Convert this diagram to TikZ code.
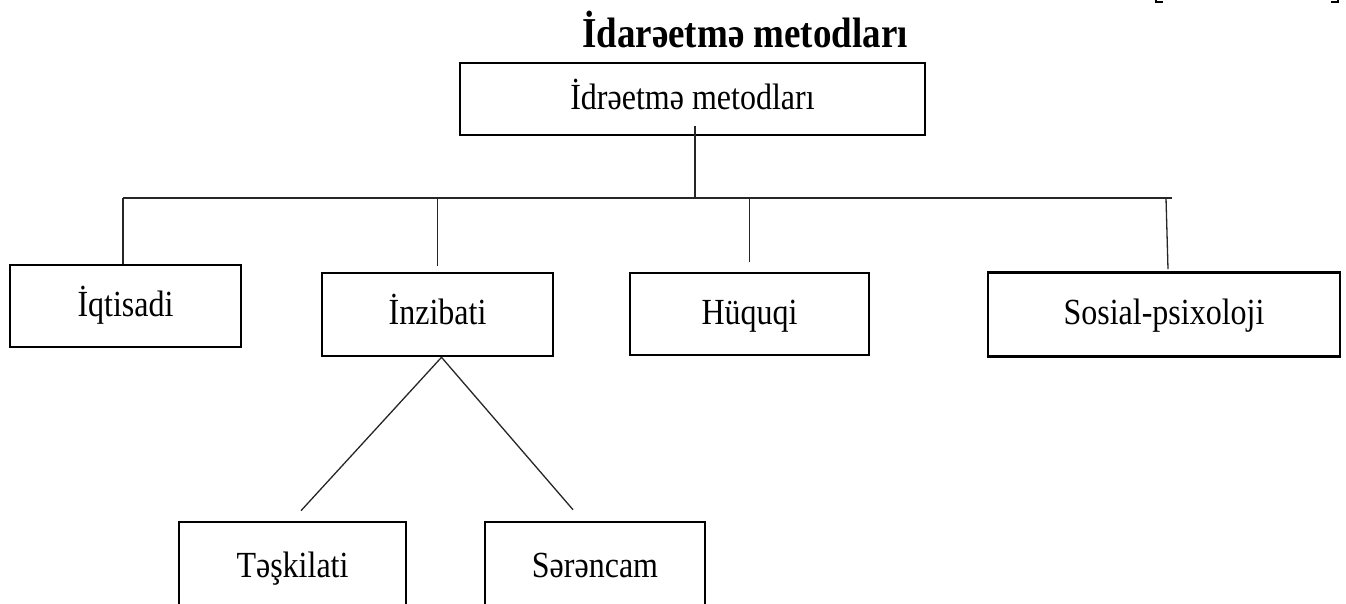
\documentclass[tikz,border=0pt]{standalone}
\usepackage{graphicx}
\usepackage{fontspec}
\setmainfont{Liberation Serif}
\usetikzlibrary{calc}
% slightly tall lettering
\newcommand\tallword[1]{\scalebox{1}[1.15]{#1}}
\begin{document}
\begin{tikzpicture}[x=1pt,y=-1pt,
  box/.style={draw=black,line width=2.6pt,inner sep=0pt,
    text height=22pt,text depth=2pt,
    font=\fontsize{32}{38}\selectfont,align=center},
  conn/.style={draw=black!85,line width=1.3pt},
  brk/.style={draw=black,line width=2.6pt}]
\useasboundingbox (0,0) rectangle (1346,603);
\clip (0,0) rectangle (1346,603);

% heading
\node[anchor=base,font=\bfseries\fontsize{37}{44}\selectfont] (title) at (745,47) {\tallword{İdarəetmə metodları}};

% fragments of a bracketed reference cut by the top edge
\coordinate (bl) at (1156,-6);
\coordinate (br) at (1338,-6);
\draw[brk] (bl) -- ++(0,8) -- ++(7,0);
\draw[brk] (br) -- ++(0,8) -- ++(-7,0);

% root
\node[box,minimum width=465pt,minimum height=72pt] (top) at (692.5,99) {\tallword{İdrəetmə metodları}};

% first level
\node[box,minimum width=231pt,minimum height=82pt] (iq)  at (125.5,306) {\tallword{İqtisadi}};
\node[box,minimum width=231pt,minimum height=83pt] (inz) at (437.5,314.5) {\tallword{İnzibati}};
\node[box,minimum width=239pt,minimum height=82pt] (hq)  at (749.5,314) {\tallword{Hüquqi}};
\node[box,minimum width=352pt,minimum height=84pt] (sos) at (1164,314.5) {\tallword{Sosial-psixoloji}};

% second level
\node[box,minimum width=227pt,minimum height=90pt] (tes) at (292.5,567) {\tallword{Təşkilati}};
\node[box,minimum width=220pt,minimum height=90pt] (ser) at (595,567) {\tallword{Sərəncam}};

% bus line and drops
\coordinate (busL) at (123,198);
\coordinate (busR) at (1172,198);
\draw[conn] (busL) -- (busR);
\draw[conn] ([xshift=2.5pt,yshift=10pt]top.south) -- ([xshift=2.5pt]top.south |- busL);
\draw[conn] (busL) -- (busL |- iq.north);
\draw[conn] (inz.north |- busL) -- ([yshift=6pt]inz.north);
\draw[conn] (hq.north |- busL) -- ([yshift=10pt]hq.north);
\draw[conn] ([xshift=2pt]sos.north |- busL) -- ([xshift=4pt,yshift=2pt]sos.north);

% branches of the administrative methods
\draw[conn] ([xshift=4pt]inz.south) -- ([xshift=8.5pt,yshift=10pt]tes.north);
\draw[conn] ([xshift=4pt]inz.south) -- ([xshift=-22pt,yshift=11pt]ser.north);
\end{tikzpicture}
\end{document}
